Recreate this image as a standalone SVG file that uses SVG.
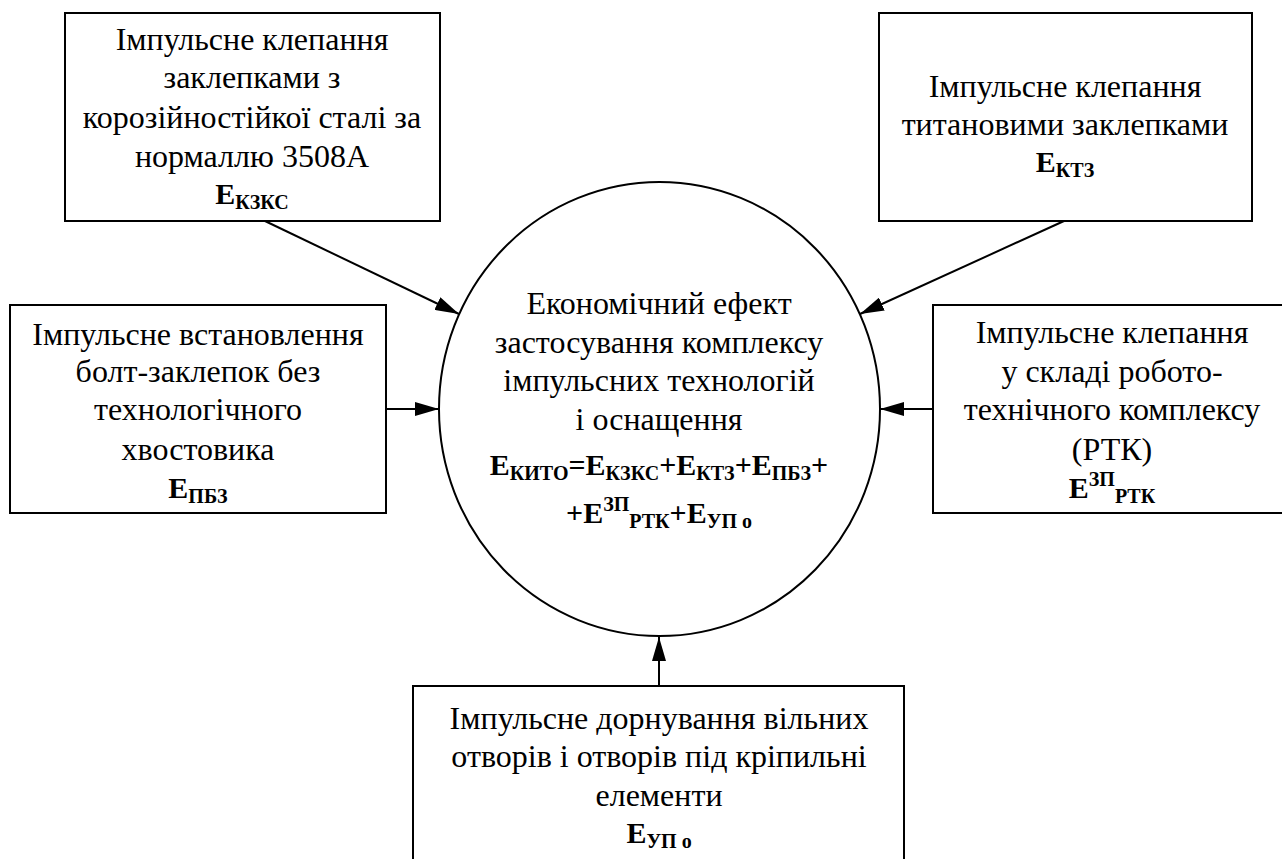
<svg xmlns="http://www.w3.org/2000/svg" width="1282" height="859" viewBox="0 0 1282 859">
<style>
.box{fill:#fff;stroke:#000;stroke-width:2}
text{font-family:"Liberation Serif","Times New Roman",serif;font-size:32px;fill:#000;text-anchor:middle}
.b{font-size:30px;font-weight:bold}
.s{font-size:20px;font-weight:bold}
.con{stroke:#000;stroke-width:2;fill:none;marker-end:url(#ah)}
</style>
<defs>
<marker id="ah" viewBox="0 0 24 14" refX="24" refY="7" markerWidth="24" markerHeight="14" orient="auto" markerUnits="userSpaceOnUse">
<path d="M0,0 L24,7 L0,14 z" fill="#000"/>
</marker>
</defs>
<rect width="1282" height="859" fill="#fff"/>
<g id="connectors">
<line class="con" x1="265" y1="221" x2="459" y2="314"/>
<line class="con" x1="1064" y1="221" x2="860" y2="314"/>
<line class="con" x1="386" y1="409" x2="439" y2="409"/>
<line class="con" x1="933" y1="409" x2="880" y2="409"/>
<line class="con" x1="659" y1="686" x2="659" y2="637"/>
</g>
<g id="center">
<ellipse class="box" cx="659.5" cy="409" rx="220.5" ry="227"/>
<text x="659" y="314">Економічний ефект</text>
<text x="659" y="353">застосування комплексу</text>
<text x="659" y="391">імпульсних технологій</text>
<text x="659" y="430">і оснащення</text>
<text class="b" x="659" y="475">E<tspan class="s" dy="5">КИТО</tspan><tspan dy="-5">=E</tspan><tspan class="s" dy="5">КЗКС</tspan><tspan dy="-5">+E</tspan><tspan class="s" dy="5">КТЗ</tspan><tspan dy="-5">+E</tspan><tspan class="s" dy="5">ПБЗ</tspan><tspan dy="-5">+</tspan></text>
<text class="b" x="659" y="523">+E<tspan class="s" dy="-12">ЗП</tspan><tspan class="s" dy="17">РТК</tspan><tspan dy="-5">+E</tspan><tspan class="s" dy="5">УП о</tspan></text>
</g>
<g id="node-kzks">
<rect class="box" x="65" y="13" width="375" height="208"/>
<text x="252" y="50">Імпульсне клепання</text>
<text x="252" y="88">заклепками з</text>
<text x="252" y="128">корозійностійкої сталі за</text>
<text x="252" y="167">нормаллю 3508А</text>
<text class="b" x="252" y="204">E<tspan class="s" dy="5">КЗКС</tspan></text>
</g>
<g id="node-ktz">
<rect class="box" x="879" y="13" width="373" height="208"/>
<text x="1065" y="97">Імпульсне клепання</text>
<text x="1065" y="135">титановими заклепками</text>
<text class="b" x="1065" y="172">E<tspan class="s" dy="5">КТЗ</tspan></text>
</g>
<g id="node-pbz">
<rect class="box" x="10" y="305" width="376" height="208"/>
<text x="198" y="345">Імпульсне встановлення</text>
<text x="198" y="382">болт-заклепок без</text>
<text x="198" y="420">технологічного</text>
<text x="198" y="460">хвостовика</text>
<text class="b" x="198" y="498">E<tspan class="s" dy="5">ПБЗ</tspan></text>
</g>
<g id="node-rtk">
<rect class="box" x="933" y="305" width="360" height="208"/>
<text x="1112" y="343">Імпульсне клепання</text>
<text x="1112" y="382">у складі робото-</text>
<text x="1112" y="420">технічного комплексу</text>
<text x="1112" y="460">(РТК)</text>
<text class="b" x="1112" y="498">E<tspan class="s" dy="-12">ЗП</tspan><tspan class="s" dy="17">РТК</tspan></text>
</g>
<g id="node-upo">
<rect class="box" x="413" y="686" width="491" height="190"/>
<text x="659" y="729">Імпульсне дорнування вільних</text>
<text x="659" y="767">отворів і отворів під кріпильні</text>
<text x="659" y="806">елементи</text>
<text class="b" x="659" y="843">E<tspan class="s" dy="5">УП о</tspan></text>
</g>
</svg>
